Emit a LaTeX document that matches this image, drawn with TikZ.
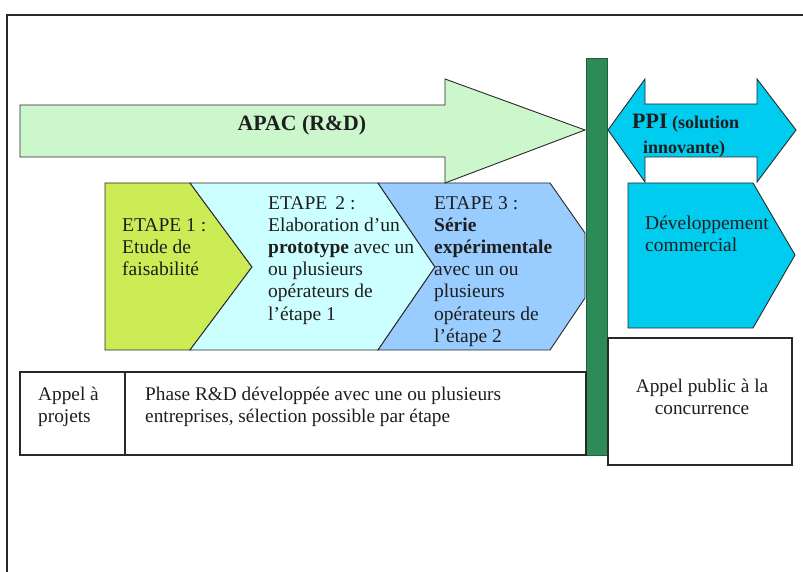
\documentclass[tikz,border=0pt]{standalone}
\usepackage{fontspec}
\setmainfont{Liberation Serif}
\definecolor{apacgreen}{RGB}{204,247,204}
\definecolor{etapeone}{RGB}{204,236,85}
\definecolor{etapetwo}{RGB}{204,255,255}
\definecolor{etapethree}{RGB}{153,204,255}
\definecolor{ppiblue}{RGB}{0,204,240}
\definecolor{bargreen}{RGB}{46,139,87}
\definecolor{edge}{RGB}{40,40,40}
\definecolor{txt}{RGB}{30,30,30}
\tikzset{
  shapeline/.style={draw=edge, line width=0.9pt, line join=miter},
  boxline/.style={draw=edge, line width=1.2pt},
  bodytxt/.style={anchor=north west, inner sep=0pt, align=left, text=txt,
    font=\fontsize{19.5}{22.2}\selectfont},
  tabletxt/.style={anchor=north west, inner sep=0pt, align=left, text=txt,
    font=\fontsize{19.3}{21.5}\selectfont},
}
\begin{document}
\begin{tikzpicture}[x=1pt,y=-1pt]
\useasboundingbox (0,0) rectangle (803,572);
% outer frame
\draw[boxline] (7,580) -- (7,15) -- (810,15);
% etapes
\path[shapeline, fill=etapeone] (105,183) -- (190,183) -- (252,267) -- (190,350) -- (105,350) -- cycle;
\path[shapeline, fill=etapetwo] (190,183) -- (378,183) -- (435,267) -- (378,350) -- (190,350) -- (252,267) -- cycle;
\path[shapeline, fill=etapethree] (378,183) -- (550,183) -- (585,233) -- (585,298) -- (550,350) -- (378,350) -- (435,267) -- cycle;
% APAC arrow
\path[shapeline, fill=apacgreen] (20,105) -- (445,105) -- (445,79) -- (585,130) -- (445,183) -- (445,157) -- (20,157) -- cycle;
% green bar
\path[draw=bargreen!70!black, fill=bargreen, line width=0.6pt] (586,58) rectangle (607,455);
% PPI double arrow
\path[shapeline, fill=ppiblue] (608,130) -- (645,79) -- (645,104) -- (757,104) -- (757,79) -- (796,130) -- (757,182) -- (757,157) -- (645,157) -- (645,182) -- cycle;
% Developpement
\path[shapeline, fill=ppiblue] (628,183) -- (753,183) -- (795,255) -- (753,328) -- (628,328) -- cycle;
% table
\draw[boxline] (20,372) rectangle (586,455);
\draw[boxline] (125,372) -- (125,455);
\draw[boxline] (608,338) rectangle (792,465);
% texts
\node[anchor=center, inner sep=0pt, text=txt, font=\fontsize{21.8}{26}\bfseries] (apac) at (302,125) {APAC (R\&D)};
\node[anchor=north west, inner sep=0pt, align=left, text=txt, font=\fontsize{18}{25}\bfseries] (ppi) at (632,114)
  {{\fontsize{22}{25}\selectfont PPI} (solution\\\hspace*{11pt}innovante)};
\node[bodytxt] (e1) at (122,218) {ETAPE 1 :\\Etude de\\faisabilité};
\node[bodytxt] (e2) at (268,196) {ETAPE\, 2 :\\Elaboration d’un\\\textbf{prototype} avec un\\ou plusieurs\\opérateurs de\\l’étape 1};
\node[bodytxt] (e3) at (434,196) {ETAPE 3 :\\\textbf{Série}\\\textbf{expérimentale}\\avec un ou\\plusieurs\\opérateurs de\\l’étape 2};
\node[bodytxt] (dev) at (645,216) {Développement\\commercial};
\node[tabletxt] (ap) at (38,387) {Appel à\\projets};
\node[tabletxt] (phase) at (145,387) {Phase R\&D développée avec une ou plusieurs\\entreprises, sélection possible par étape};
\node[tabletxt, align=center, anchor=north] (apc) at (702,379) {Appel public à la\\concurrence};
\end{tikzpicture}
\end{document}
